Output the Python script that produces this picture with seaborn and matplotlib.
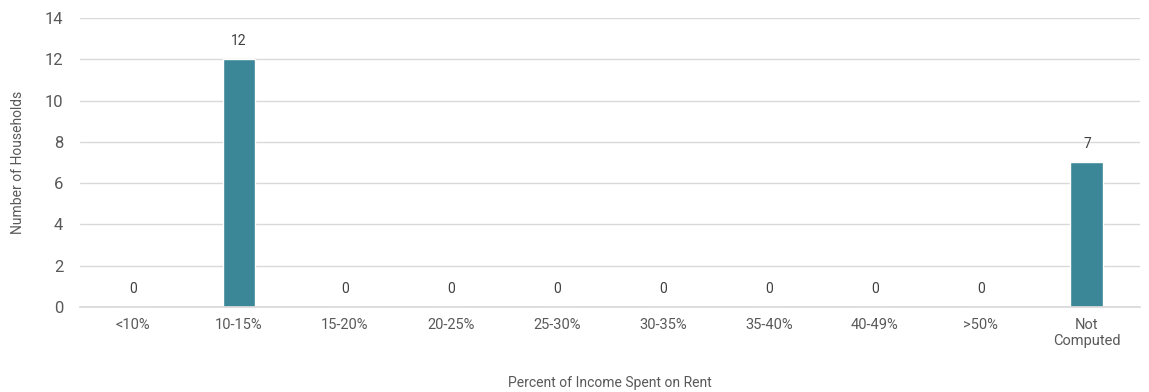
import matplotlib
matplotlib.use("Agg")
import matplotlib.pyplot as plt
import seaborn as sns
import pandas as pd

categories = ["<10%", "10-15%", "15-20%", "20-25%", "25-30%", "30-35%", "35-40%", "40-49%", ">50%", "Not\nComputed"]
households = [0, 12, 0, 0, 0, 0, 0, 0, 0, 7]

sns.set_theme(style="white")
plt.rcParams['font.family'] = ['Roboto', 'DejaVu Sans']

df = pd.DataFrame({"cat": categories, "n": households})

fig = plt.figure(figsize=(11.49, 3.92), dpi=100)
ax = fig.add_axes([0.0696, 0.217, 0.9225, 0.737])
sns.barplot(data=df, x="cat", y="n", color="#3B8797", width=0.31, saturation=1, ax=ax)

ax.set_ylim(0, 14)
ax.set_yticks(range(0, 15, 2))
ax.yaxis.grid(True, color="#d9d9d9", linewidth=1)
ax.set_axisbelow(True)
for s in ["top", "right", "left"]:
    ax.spines[s].set_visible(False)
ax.spines["bottom"].set_color("#d9d9d9")
ax.tick_params(axis="both", length=0, colors="#595959")
ax.tick_params(axis="y", labelsize=12, pad=12)
ax.tick_params(axis="x", labelsize=10.5, pad=8)
ax.set_xlabel("Percent of Income Spent on Rent", fontsize=10, color="#595959", labelpad=20)
ax.set_ylabel("Number of Households", fontsize=10, color="#595959", labelpad=14)

for c in ax.containers:
    ax.bar_label(c, labels=[str(v) for v in households], padding=8, fontsize=10, color="#404040")

fig.savefig("out.png", dpi=100)
